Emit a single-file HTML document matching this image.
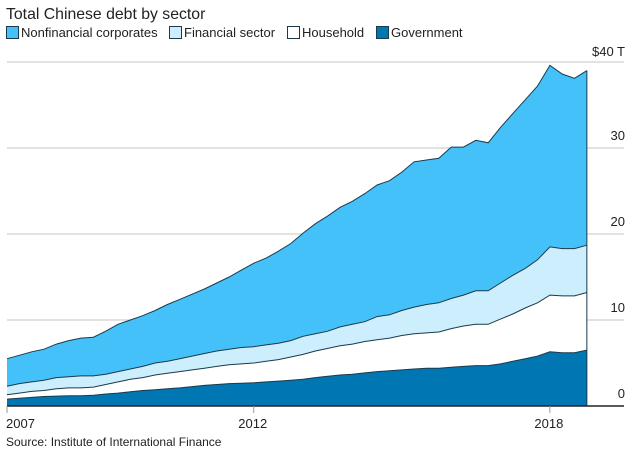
<!DOCTYPE html>
<html><head><meta charset="utf-8">
<style>
body{margin:0;background:#fff;font-family:"Liberation Sans",Arial,sans-serif;}
svg text{font-family:"Liberation Sans",Arial,sans-serif;}
</style></head>
<body>
<svg width="640" height="451" viewBox="0 0 640 451">
<text x="6" y="19" font-size="15.8" fill="#222">Total Chinese debt by sector</text>
<g>
 <g><rect x="6.5" y="26.5" width="12" height="12" fill="#45c1f9" stroke="#1b3a4b"/><text x="21" y="37" font-size="13" fill="#222">Nonfinancial corporates</text></g>
 <g><rect x="169.5" y="26.5" width="12" height="12" fill="#cdeefd" stroke="#1b3a4b"/><text x="184" y="37" font-size="13" fill="#222">Financial sector</text></g>
 <g><rect x="287.5" y="26.5" width="12" height="12" fill="#fff" stroke="#1b3a4b"/><text x="302" y="37" font-size="13" fill="#222">Household</text></g>
 <g><rect x="376.5" y="26.5" width="12" height="12" fill="#0077b2" stroke="#1b3a4b"/><text x="391" y="37" font-size="13" fill="#222">Government</text></g>
</g>
<g id="grid"></g>
<g id="areas"></g>
<g id="axes"></g>
<text x="6" y="446" font-size="12" fill="#222">Source: Institute of International Finance</text>
</svg>
<script>
// cumulative stack tops ($ trillions), quarterly from 2007 Q1
const totalTop=[5.5,5.9,6.3,6.6,7.2,7.6,7.9,8.0,8.7,9.5,10.0,10.5,11.1,11.8,12.4,13.0,13.6,14.3,15.0,15.8,16.6,17.2,18.0,18.9,20.1,21.2,22.1,23.1,23.8,24.7,25.7,26.2,27.2,28.4,28.6,28.8,30.1,30.1,30.9,30.6,32.4,34.0,35.6,37.2,39.6,38.6,38.1,39.0];
const financialTop=[2.3,2.6,2.8,3.0,3.3,3.4,3.5,3.5,3.7,4.0,4.3,4.6,5.0,5.2,5.5,5.8,6.1,6.4,6.6,6.8,6.9,7.1,7.3,7.6,8.1,8.4,8.7,9.2,9.5,9.8,10.4,10.6,11.1,11.5,11.8,12.0,12.5,12.9,13.4,13.4,14.3,15.2,16.0,17.0,18.5,18.3,18.3,18.7];
const householdTop=[1.3,1.5,1.7,1.8,2.0,2.1,2.1,2.2,2.5,2.8,3.1,3.3,3.6,3.8,4.0,4.2,4.4,4.6,4.8,4.9,5.0,5.2,5.4,5.7,6.0,6.4,6.7,7.0,7.2,7.5,7.7,7.9,8.2,8.4,8.5,8.6,9.0,9.3,9.5,9.5,10.1,10.7,11.4,12.0,12.9,12.8,12.8,13.2];
const governmentTop=[0.8,0.9,1.0,1.1,1.15,1.2,1.2,1.25,1.4,1.5,1.65,1.8,1.9,2.0,2.1,2.25,2.4,2.5,2.6,2.65,2.7,2.8,2.9,3.0,3.1,3.3,3.45,3.6,3.7,3.85,4.0,4.1,4.2,4.3,4.4,4.4,4.5,4.6,4.7,4.7,4.9,5.2,5.5,5.8,6.3,6.2,6.2,6.5];
const yTicks=[0,10,20,30,40];
const yTickLabels=["0","10","20","30","$40 T"];
const xTicks=[2007,2012,2018];
const startYear=2007;

const NS="http://www.w3.org/2000/svg";
const X=yr=>7+(yr-2007)*49.35;
const Y=v=>406-v*8.6;
const qx=i=>X(startYear+i/4);
function mk(tag,attrs,parent){const e=document.createElementNS(NS,tag);for(const k in attrs)e.setAttribute(k,attrs[k]);parent.appendChild(e);return e;}
const grid=document.getElementById('grid'),areas=document.getElementById('areas'),axes=document.getElementById('axes');
yTicks.forEach((t,i)=>{
 if(t>0){const l=mk('line',{x1:7,x2:624,y1:Y(t),y2:Y(t),stroke:'#d9d9d9','stroke-width':1.5},grid);
 
 }
 const tx=mk('text',{x:625,y:Y(t)-(t===40?6:8),'font-size':13,fill:'#222','text-anchor':'end'},axes);
 tx.textContent=yTickLabels[i];
 
 
});
function band(top,bottom,fill,name){
 let d='';
 top.forEach((v,i)=>{d+=(i?'L':'M')+qx(i).toFixed(1)+','+Y(v).toFixed(1);});
 for(let i=top.length-1;i>=0;i--){d+='L'+qx(i).toFixed(1)+','+Y(bottom?bottom[i]:0).toFixed(1);}
 d+='Z';
 const p=mk('path',{d:d,fill:fill,stroke:'none'},areas);
 
 
 let ld='';top.forEach((v,i)=>{ld+=(i?'L':'M')+qx(i).toFixed(1)+','+Y(v).toFixed(1);});
 const l=mk('path',{d:ld,fill:'none',stroke:'#1b3a4b','stroke-width':1},areas);
 
 
}
band(totalTop,financialTop,'#45c1f9','area-nonfinancial');
band(financialTop,householdTop,'#cdeefd','area-financial');
band(householdTop,governmentTop,'#ffffff','area-household');
band(governmentTop,null,'#0077b2','area-government');
const n=totalTop.length-1;
const edge=mk('line',{x1:qx(n),x2:qx(n),y1:Y(totalTop[n]),y2:Y(0),stroke:'#1b3a4b','stroke-width':1},axes);


const base=mk('line',{x1:7,x2:624,y1:Y(0),y2:Y(0),stroke:'#222','stroke-width':1.5},axes);


xTicks.forEach(yr=>{
 const t=mk('line',{x1:X(yr),x2:X(yr),y1:Y(0),y2:Y(0)+7,stroke:'#999','stroke-width':1},axes);
 
 
 const tx=mk('text',{x:X(yr)-1,y:428,'font-size':13,fill:'#222','text-anchor':yr===2007?'start':'middle'},axes);
 tx.textContent=yr;
 
 
});
</script>
</body></html>
